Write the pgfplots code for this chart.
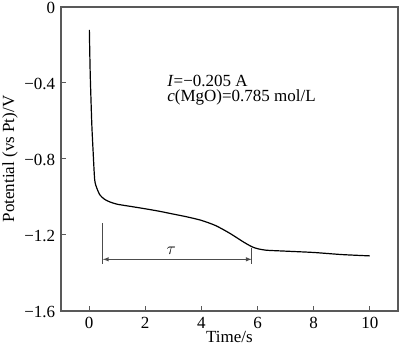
\documentclass[border=0pt]{standalone}
\usepackage{pgfplots}
\pgfplotsset{compat=1.18}
\usepackage{fontspec}
\setmainfont{Liberation Serif}
\begin{document}
\fontsize{17}{20}\selectfont
\begin{tikzpicture}
\begin{axis}[
 scale only axis, width=337pt, height=304pt,
 at={(0,0)}, anchor=south west,
 xmin=-1, xmax=11, ymin=-1.6, ymax=0,
 axis line style={draw=black!65, line width=1.3pt},
 xtick={0,2,4,6,8,10}, xticklabels={0,2,4,6,8,10},
 ytick={-1.6,-1.2,-0.8,-0.4,0}, yticklabels={−1.6,−1.2,−0.8,−0.4,0},
 tick align=inside, xtick pos=bottom, ytick pos=left,
 tick style={draw=black!65, line width=1pt}, major tick length=5pt,
 ticklabel style={font=\fontsize{17}{20}\selectfont},
 yticklabel style={yshift=-1pt},
 xlabel={Time/s}, ylabel={Potential (vs Pt)/V},
 xlabel style={at={(axis description cs:0.5,-0.086)},anchor=center},
 ylabel style={at={(axis description cs:-0.151,0.5)},anchor=center},
 label style={font=\fontsize{17}{20}\selectfont},
 clip=false,
]
\addplot[black, line width=1.2pt, smooth, tension=0.4] coordinates {
(0.01,-0.12) (0.04,-0.35) (0.095,-0.61) (0.14,-0.75) (0.2,-0.91) (0.28,-0.955) (0.39,-0.99) (0.55,-1.012) (0.74,-1.026) (1.0,-1.038) (1.5,-1.05) (2,-1.062) (2.5,-1.075) (3,-1.09) (3.5,-1.105) (4,-1.123) (4.5,-1.15) (5,-1.19) (5.5,-1.237) (5.8,-1.262) (6,-1.272) (6.3,-1.28) (7,-1.285) (8,-1.292) (9,-1.303) (10,-1.31)
};
\draw[black!70, line width=1pt] (axis cs:0.49,-1.137) -- (axis cs:0.49,-1.354);
\draw[black!70, line width=1pt] (axis cs:5.79,-1.268) -- (axis cs:5.79,-1.353);
\draw[black!70, line width=1pt, <->, >=latex] (axis cs:0.49,-1.328) -- (axis cs:5.79,-1.328);
\node[anchor=base, inner sep=0pt] at (axis cs:2.93,-1.305) {$\tau$};
\node[anchor=base west, inner sep=0pt] at (axis cs:2.78,-0.416) {\textit{I}=−0.205 A};
\node[anchor=base west, inner sep=0pt] at (axis cs:2.78,-0.5) {\textit{c}(MgO)=0.785 mol/L};
\end{axis}
\pgfresetboundingbox
\path (-61pt,-40pt) rectangle (339pt,311pt);
\end{tikzpicture}
\end{document}
